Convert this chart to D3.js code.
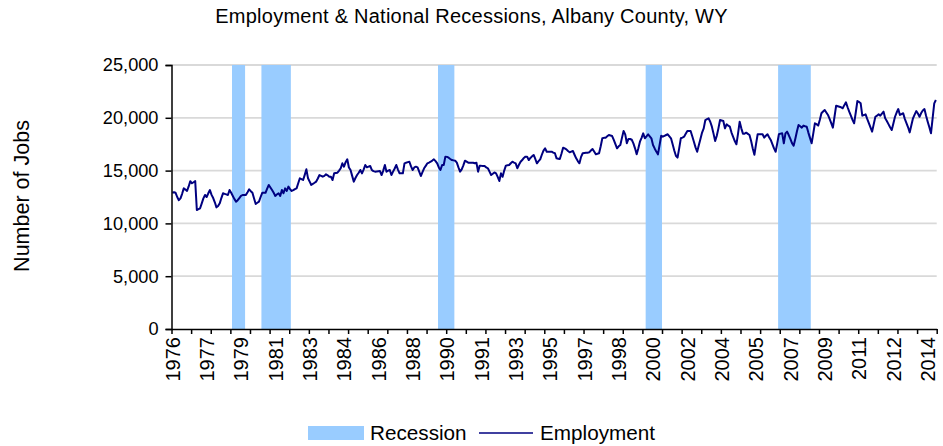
<!DOCTYPE html>
<html>
<head>
<meta charset="utf-8">
<script src="https://cdn.jsdelivr.net/npm/d3@7"></script>
<style>
  html, body { margin: 0; padding: 0; background: #fff; }
  svg { display: block; }
  text { font-family: "Liberation Sans", Arial, sans-serif; fill: #000; }
</style>
</head>
<body>
<svg id="chart" width="943" height="446"></svg>
<script>
// ---------------- DATA ----------------
const startYear = 1976;           // first month = Jan 1976
const monthsCount = 468;          // Jan 1976 .. Dec 2014

// Monthly employment (Number of Jobs), one row per year
const emp1976 = [12900,12950,12900,12500,12200,12370,12800,13320,13200,13070,13500,14000];
const emp1977 = [13800,13900,14000,11270,11350,11430,11900,12370,12690,12500,12850,13160];
const emp1978 = [12700,12400,12000,11520,11650,11900,12400,12850,12800,12750,12690,13160];
const emp1979 = [12900,12600,12300,12060,12200,12400,12600,12690,12690,12700,12950,13225];
const emp1980 = [13050,12900,12350,11840,11950,12060,12500,12900,12900,12900,13300,13640];
const emp1981 = [13400,13160,12900,12600,12750,12850,12600,13160,12850,13320,13070,13480];
const emp1982 = [13250,13070,13150,13250,13320,13800,14270,14200,14110,14600,15120,14270];
const emp1983 = [13950,13640,13750,13850,13960,14250,14580,14500,14420,14500,14650,14550];
const emp1984 = [14420,14420,14110,14740,14770,14800,15000,15220,15690,15370,15800,16070];
const emp1985 = [15300,15060,14500,13950,14300,14580,14800,15060,14740,15100,15530,15310];
const emp1986 = [15380,15440,15060,14950,14900,14920,14940,14960,14580,15000,15530,14900];
const emp1987 = [15000,15060,14580,14900,15200,15530,15100,14740,14740,14740,15690,15750];
const emp1988 = [15800,15840,15400,15060,15300,15370,15300,14900,14490,14850,15220,15450];
const emp1989 = [15690,15760,15840,15950,16070,15900,15690,15300,15060,15530,15530,16320];
const emp1990 = [16300,16220,16100,16000,15970,15940,15750,15300,14900,15120,15500,15940];
const emp1991 = [15850,15750,15750,15750,15750,15700,15750,14900,15470,15450,15440,15440];
const emp1992 = [15300,15220,14900,14580,14700,14830,14740,14400,14020,14740,14420,15000];
const emp1993 = [15470,15500,15530,15700,15840,15760,15690,15220,15550,15840,16000,16200];
const emp1994 = [16320,16320,16000,16200,16350,16480,16100,15690,15900,16070,16500,16900];
const emp1995 = [17110,16790,16790,16790,16790,16700,16640,16160,16130,16100,16600,17170];
const emp1996 = [17100,17010,16850,16730,16800,16860,16500,16160,15900,15690,16300,16640];
const emp1997 = [16660,16680,16700,16730,16900,17050,16800,16540,16600,16640,17300,18060];
const emp1998 = [18100,18120,18250,18370,18320,18270,17900,17500,17110,17300,17420,18100];
const emp1999 = [18750,18430,17590,18000,17990,17920,17580,17110,16540,17100,17740,18100];
const emp2000 = [18530,18060,18250,18440,18250,18060,17420,17100,16800,16540,17400,18300];
const emp2001 = [18210,18290,18370,18440,18250,18060,17500,16900,16400,16230,17100,18060];
const emp2002 = [18130,18210,18480,18750,18750,18750,18250,17740,17200,16790,17400,17990];
const emp2003 = [18600,19000,19790,19870,19950,19630,19160,18500,17800,18300,19000,19790];
const emp2004 = [19750,19700,19000,19380,19250,19160,18600,18200,17800,17490,18500,19630];
const emp2005 = [19000,18500,18500,18590,18480,18370,17800,17100,16500,17500,18440,18440];
const emp2006 = [18440,18440,18120,18300,18440,18150,17900,17500,17100,16790,17600,18440];
const emp2007 = [18500,18530,17590,18530,18690,18370,18000,17600,17360,18000,18700,19320];
const emp2008 = [19200,19070,19260,19200,19160,18600,18100,17590,18500,19480,19400,19260];
const emp2009 = [19800,20430,20600,20740,20500,20270,19900,19500,19070,20100,21150,21100];
const emp2010 = [21050,21000,20900,21200,21470,21000,20580,20200,19800,19480,20500,21590];
const emp2011 = [21500,21370,20200,20260,20330,19900,19500,19100,18690,19400,20100,20200];
const emp2012 = [20330,20200,20400,20580,19950,19700,19400,19100,18840,19450,20100,20500];
const emp2013 = [20830,20270,20350,20430,19900,19500,19100,18620,19300,19950,20300,20640];
const emp2014 = [20400,20100,20450,20700,20830,20200,19630,19100,18530,19950,21370,21690];

// Recession shading as drawn (first and last shaded month, "YYYY-MM")
const recessionStart = ["1979-02","1980-08","1989-08","2000-03","2006-12"];
const recessionEnd   = ["1979-09","1982-01","1990-05","2000-12","2008-07"];

// Axis labels
const xTickLabels = ["1976","1977","1979","1981","1983","1984","1986","1988","1990","1991","1993","1995",
                     "1997","1998","2000","2002","2004","2005","2007","2009","2011","2012","2014"];
const xLabelInterval = 21;   // months between category labels
const xTickInterval = 12;    // months between tick marks
const yTicks = [0,5000,10000,15000,20000,25000];

const titleText = "Employment & National Recessions, Albany County, WY";
const yTitle = "Number of Jobs";
const legendLabels = ["Recession","Employment"];

// ---------------- BUILD ----------------
const employment = [].concat(emp1976,emp1977,emp1978,emp1979,emp1980,emp1981,emp1982,emp1983,emp1984,
  emp1985,emp1986,emp1987,emp1988,emp1989,emp1990,emp1991,emp1992,emp1993,emp1994,emp1995,emp1996,
  emp1997,emp1998,emp1999,emp2000,emp2001,emp2002,emp2003,emp2004,emp2005,emp2006,emp2007,emp2008,
  emp2009,emp2010,emp2011,emp2012,emp2013,emp2014);

function monthIndex(s) {
  const [yy, mm] = s.split("-").map(Number);
  return (yy - startYear) * 12 + (mm - 1);
}
const recessions = recessionStart.map((s, k) => ({ a: monthIndex(s), b: monthIndex(recessionEnd[k]) }));

const svg = d3.select("#chart");
const plot = { left: 171.5, right: 936.7, top: 65, bottom: 329 };

const x = d3.scaleLinear().domain([0, monthsCount]).range([plot.left, plot.right]);
const y = d3.scaleLinear().domain([0, 25000]).range([plot.bottom, plot.top]);

const NAVY = "#000080";
const LIGHTBLUE = "#99ccff";

// gridlines
svg.append("g")
  .selectAll("line")
  .data(yTicks.filter(d => d > 0))
  .join("line")
  .attr("x1", plot.left).attr("x2", plot.right)
  .attr("y1", d => y(d)).attr("y2", d => y(d))
  .attr("stroke", "#d9d9d9").attr("stroke-width", 1.8);

// recession bars
svg.append("g")
  .selectAll("rect")
  .data(recessions)
  .join("rect")
  .attr("x", d => x(d.a))
  .attr("width", d => x(d.b + 1) - x(d.a))
  .attr("y", y(25000))
  .attr("height", y(0) - y(25000))
  .attr("fill", LIGHTBLUE);

// employment line
const line = d3.line()
  .x((d, i) => x(i + 0.5))
  .y(d => y(d));
svg.append("path")
  .datum(employment)
  .attr("d", line)
  .attr("fill", "none")
  .attr("stroke", NAVY)
  .attr("stroke-width", 2)
  .attr("stroke-linejoin", "round");

// Y axis
const yAxis = svg.append("g")
  .attr("transform", `translate(${plot.left},0)`)
  .call(d3.axisLeft(y).tickValues(yTicks).tickFormat(d3.format(",")).tickSize(6).tickPadding(7));
yAxis.select(".domain").attr("stroke", "#000").attr("stroke-width", 1.5);
yAxis.selectAll(".tick line").attr("stroke", "#000").attr("stroke-width", 1.5);
yAxis.selectAll(".tick text")
  .attr("font-size", 18.2).attr("font-family", '"Liberation Sans", Arial, sans-serif').attr("fill", "#000");

// X axis: tick marks every 12 months
const tickVals = d3.range(0, monthsCount + 1, xTickInterval);
const xAxis = svg.append("g")
  .attr("transform", `translate(0,${plot.bottom})`)
  .call(d3.axisBottom(x).tickValues(tickVals).tickFormat("").tickSize(5).tickSizeOuter(0));
xAxis.select(".domain").attr("stroke", "#000").attr("stroke-width", 1.5);
xAxis.selectAll(".tick line").attr("stroke", "#000").attr("stroke-width", 1.5);

// X category labels (rotated)
svg.append("g")
  .selectAll("text")
  .data(xTickLabels)
  .join("text")
  .attr("transform", (d, k) => `translate(${x(k * xLabelInterval + 0.5)},${plot.bottom + 8}) rotate(-90)`)
  .attr("text-anchor", "end")
  .attr("dy", "0.36em")
  .attr("font-size", 20)
  .text(d => d);

// Title
svg.append("text")
  .attr("x", 471.5).attr("y", 23)
  .attr("text-anchor", "middle")
  .attr("font-size", 20)
  .attr("letter-spacing", "0.25px")
  .text(titleText);

// Y title
svg.append("text")
  .attr("transform", `translate(29,196) rotate(-90)`)
  .attr("text-anchor", "middle")
  .attr("font-size", 21.5)
  .text(yTitle);

// Legend
const lg = svg.append("g");
lg.append("rect").attr("x", 308).attr("y", 426).attr("width", 56).attr("height", 14).attr("fill", LIGHTBLUE);
lg.append("text").attr("x", 370).attr("y", 440).attr("font-size", 20.7).text(legendLabels[0]);
lg.append("line").attr("x1", 479).attr("x2", 533).attr("y1", 433).attr("y2", 433)
  .attr("stroke", NAVY).attr("stroke-width", 1.5);
lg.append("text").attr("x", 540).attr("y", 440).attr("font-size", 20.7).text(legendLabels[1]);
</script>
</body>
</html>
